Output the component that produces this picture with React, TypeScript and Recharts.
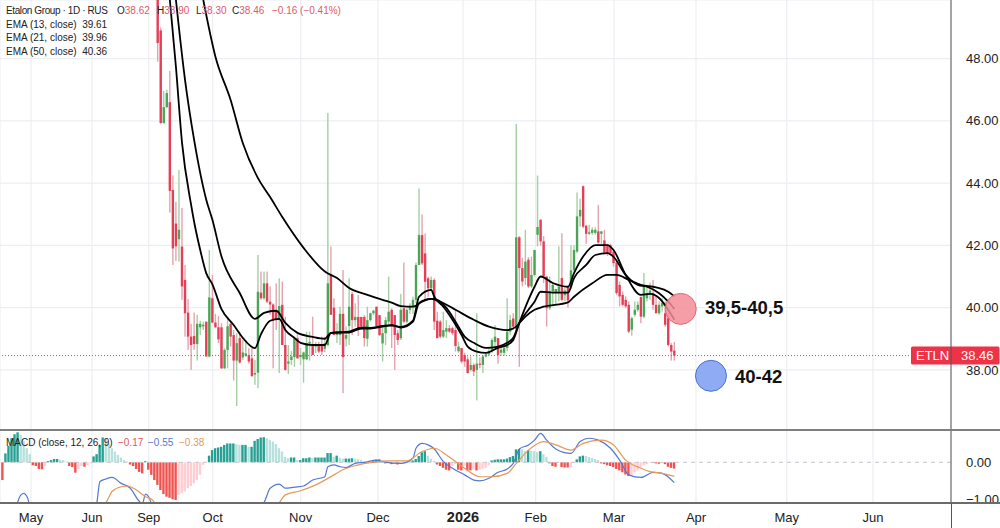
import { Bar, CartesianGrid, Cell, ComposedChart, Line, ReferenceDot, ReferenceLine, XAxis, YAxis } from 'recharts';

// candle values, one per trading day
const opens = [
  49.88, 48.9, 45.93, 46.44, 46.6, 43.78, 42.7, 42.2, 41.96, 40.89,
  39.84, 39.07, 39.09, 38.83, 39.37, 39.4, 39.55, 38.43, 40.3, 39.52,
  39.37, 39.37, 38.05, 38.64, 39.48, 39.12, 38.3, 39.02, 38.4, 38.45,
  38.48, 38.37, 37.85, 37.91, 40.48, 40.3, 40.78, 40.19, 40.1, 39.9,
  39.6, 40.09, 38.8, 38.2, 38.32, 38.41, 39.02, 38.41, 38.34, 38.34,
  38.86, 38.8, 38.75, 38.8, 38.8, 38.68, 38.8, 41.05, 40, 39.12,
  39.12, 39.8, 39, 39.41, 40.44, 39.6, 39.7, 39.7, 39.7, 39,
  39.6, 39.82, 40.03, 39.76, 38.85, 39.18, 39.55, 39.93, 39.76, 39.18,
  39.02, 39.98, 39.55, 39.93, 40.03, 40.25, 41.37, 42.33, 41.74, 40.94,
  40.62, 40.89, 39.58, 39.55, 39.07, 39.23, 39.34, 39.34, 39.28, 38.6,
  38.7, 38.48, 38.34, 38, 38.16, 38, 38.2, 38.16, 38.43, 38.5,
  38.6, 38.9, 39.02, 38.55, 38.55, 38.7, 39.23, 39.65, 39.3, 42.26,
  41.27, 40.95, 41.54, 40.68, 41.05, 42.34, 42.82, 42.13, 41, 39.98,
  40.52, 40.5, 40.5, 40.95, 40.4, 40.68, 40.68, 41.2, 41.8, 42.93,
  43.9, 42.63, 42.37, 42.4, 42.4, 42.45, 42.37, 42.16, 42, 42,
  41.8, 41.45, 40.73, 40.41, 40.25, 40.09, 39.29, 39.77, 39.93, 40.34,
  39.71, 40.3, 40.47, 40.47, 40.09, 39.82, 40.04, 39.82, 39.66, 38.8,
  38.62,
];
const highs = [
  49.88, 49, 46.96, 47, 47.6, 44.25, 43.4, 44.42, 43.2, 41.37,
  40.28, 39.48, 39.84, 39.77, 39.58, 39.55, 39.55, 41.85, 41.05, 39.8,
  39.73, 39.5, 38.7, 39.69, 39.55, 39.28, 39.18, 39.23, 38.96, 38.96,
  38.7, 38.7, 38.32, 41.69, 41.16, 41.16, 41.16, 40.68, 40.14, 40.78,
  40.94, 40.84, 39.71, 38.8, 38.6, 39.07, 39.18, 38.7, 38.59, 39.23,
  39.23, 39.71, 38.9, 38.9, 39.07, 39.07, 46.25, 41.96, 40.3, 39.5,
  40.03, 41.21, 39.4, 40.94, 40.51, 40.14, 40.41, 39.71, 39.76, 40.03,
  39.84, 39.93, 40.03, 39.76, 39.39, 39.7, 41, 39.98, 39.76, 39.28,
  40.44, 41.45, 39.98, 40.14, 40.35, 41.45, 43.83, 42.99, 42.38, 40.99,
  41, 40.94, 39.87, 39.6, 39.87, 39.6, 39.44, 39.39, 39.93, 38.9,
  38.7, 38.55, 38.43, 38.43, 38.21, 39.82, 38.4, 38.48, 38.55, 38.7,
  39.02, 39.44, 39.02, 38.8, 38.8, 40.3, 39.76, 39.82, 45.9, 42.3,
  41.6, 42.5, 41.62, 41.64, 41.86, 44.24, 42.84, 42.3, 41, 41,
  40.79, 40.6, 41.97, 42.39, 40.7, 40.7, 42, 42, 43.7, 43.5,
  43.92, 42.66, 42.66, 42.58, 42.58, 43.3, 42.45, 42.5, 42.05, 42.05,
  41.86, 41.54, 40.84, 40.52, 40.36, 40.2, 39.71, 40.2, 40.2, 40.36,
  41.11, 40.73, 40.8, 40.89, 40.41, 40.2, 40.3, 40.2, 39.82, 38.86,
  38.9,
];
const lows = [
  47.9, 45.9, 45.9, 46.4, 43.05, 41.37, 41.5, 41.48, 40.25, 39.07,
  38.64, 38, 38.64, 38.3, 39.12, 39.28, 38.43, 38.4, 39.5, 39.34,
  38.86, 38.03, 38.03, 38.05, 38.75, 37.66, 36.84, 38.2, 38.32, 38.42,
  38.2, 37.78, 37.52, 37.41, 40.25, 40.25, 40.14, 39.77, 38.05, 39.28,
  37.9, 38.8, 37.98, 37.87, 38.16, 38.1, 38.37, 38.16, 37.59, 38.32,
  38.3, 38.48, 38.54, 38.54, 38.48, 38.57, 38.75, 39.77, 39.12, 38.86,
  38.8, 37.25, 38.75, 38.8, 39.12, 39.39, 39.09, 39.28, 38.75, 38.75,
  39.55, 39.76, 39.39, 39.09, 38.27, 38.8, 39.44, 38.7, 38, 38.8,
  38.96, 39.5, 39.5, 39.8, 39.8, 40.14, 41.37, 41.37, 40.25, 40.35,
  40.57, 39.28, 39.02, 39.02, 39.02, 39.02, 39.18, 39.12, 38.59, 38.55,
  38.21, 38.1, 37.89, 37.95, 37.8, 37.02, 38.05, 37.9, 38.4, 38.45,
  38.55, 38.75, 38.2, 38.45, 38.45, 38.6, 39.12, 39.28, 39.3, 38.1,
  40.68, 40.73, 40.63, 40.63, 41, 41.97, 41.99, 40.79, 39.39, 39.93,
  40.04, 40.1, 40.2, 40.2, 40.2, 40, 40.6, 41.15, 41.75, 42.6,
  42.55, 42.05, 42.33, 42.34, 42.34, 42.05, 42.05, 41.75, 41.66, 41.66,
  41.32, 40.41, 40.04, 40.04, 39.98, 39.18, 39.1, 39.71, 39.87, 39.5,
  39.66, 40.2, 40.25, 39.93, 39.82, 39.77, 39.87, 39.39, 38.75, 38.3,
  38.3,
];
const closes = [
  48.5, 45.93, 46.44, 46.89, 43.75, 41.9, 41.97, 42.5, 40.68, 39.82,
  39.07, 38.8, 38.83, 39.48, 39.48, 39.45, 38.43, 40.33, 39.52, 39.37,
  38.98, 38.05, 38.64, 39.4, 39.07, 38.3, 38.86, 38.24, 38.56, 38.53,
  38.27, 37.8, 37.9, 40.51, 40.3, 40.78, 40.19, 40.1, 39.6, 39.6,
  40.05, 38.8, 38, 38.27, 38.43, 39.02, 38.37, 38.48, 38.56, 38.86,
  38.9, 38.48, 38.8, 38.59, 38.59, 38.86, 40.78, 39.77, 39.12, 39.23,
  39.8, 38.41, 39.12, 40.03, 39.6, 39.7, 39.28, 39.39, 39.02, 39.6,
  39.82, 39.9, 39.41, 39.12, 39.18, 39.6, 39.87, 39.39, 39.12, 38.96,
  39.93, 39.55, 39.93, 40.03, 40.25, 41.37, 42.33, 41.42, 40.83, 40.62,
  40.89, 39.55, 39.02, 39.07, 39.28, 39.34, 39.23, 39.18, 38.77, 38.75,
  38.27, 38.27, 37.9, 38.16, 37.95, 38.2, 38.16, 38.43, 38.5, 38.6,
  38.96, 39.07, 38.48, 38.65, 38.7, 39.23, 39.6, 39.39, 42.26, 41.27,
  40.84, 41.48, 40.68, 41.05, 41.85, 42.59, 42.13, 41, 39.98, 40.52,
  40.73, 40.6, 40.68, 40.25, 40.55, 40.23, 41.2, 41.85, 42.93, 43.14,
  42.6, 42.37, 42.42, 42.5, 42.5, 42.09, 42.45, 41.77, 41.75, 41.75,
  41.43, 40.47, 40.36, 40.09, 40.04, 39.23, 39.66, 39.93, 40.09, 39.71,
  40.73, 40.47, 40.55, 40.09, 39.82, 40.09, 40.15, 39.45, 38.8, 38.59,
  38.46,
];

// EMA lines, sampled as [bar, value]
const ema13: number[][] = [
  [4, 49.88], [6, 47.73], [8, 45.3], [11, 43.3], [12, 42.75], [14, 41.85], [16, 41.1], [18, 40.75], [21, 39.95],
  [25, 39.44], [28, 39.03], [32, 38.7], [34, 39.15], [37, 39.58], [40, 39.64], [42, 39.28], [45, 39.03], [47, 38.87],
  [51, 38.8], [55, 38.8], [57, 39.19], [63, 39.23], [67, 39.36], [70, 39.35], [74, 39.41], [77, 39.44], [80, 39.38],
  [84, 39.58], [86, 40.35], [90, 40.57], [91, 40.35], [94, 40.03], [97, 39.61], [100, 39.12], [102, 38.75], [105, 38.59],
  [108, 38.55], [112, 38.71], [115, 38.8], [117, 38.96], [119, 39.51], [122, 40.25], [124, 40.67], [126, 41], [130, 40.79],
  [135, 40.67], [137, 41.11], [140, 41.64], [144, 42.01], [148, 42.01], [150, 41.85], [154, 41.05], [159, 40.41],
  [162, 40.44], [165, 40.31], [168, 39.93], [170, 39.61],
];
const ema21: number[][] = [
  [6, 49.88], [9, 47.31], [12, 45.38], [16, 43.46], [18, 42.82], [21, 41.64], [27, 40.47], [32, 39.64], [35, 39.83],
  [39, 39.9], [42, 39.51], [46, 39.19], [51, 39.06], [55, 39], [57, 39.19], [63, 39.2], [67, 39.33], [70, 39.33],
  [74, 39.39], [77, 39.43], [80, 39.36], [84, 39.55], [86, 40.15], [90, 40.28], [92, 40.25], [95, 39.99], [98, 39.55],
  [101, 39.07], [104, 38.87], [108, 38.71], [112, 38.75], [115, 38.87], [117, 39.03], [119, 39.51], [122, 39.93],
  [124, 40.19], [126, 40.51], [130, 40.48], [135, 40.48], [137, 40.95], [141, 41.37], [144, 41.69], [148, 41.75],
  [150, 41.63], [154, 41.05], [158, 40.73], [161, 40.67], [165, 40.46], [168, 40.19], [170, 39.96],
];
const ema50: number[][] = [
  [15, 49.88], [19, 48.06], [24, 46.67], [28, 45.29], [33, 44.16], [37, 43.55], [41, 42.91], [48, 41.92], [55, 41.16],
  [59, 40.95], [63, 40.63], [69, 40.41], [74, 40.25], [77, 40.16], [80, 40.05], [84, 40.03], [87, 40.19], [90, 40.28],
  [93, 40.19], [98, 39.93], [104, 39.61], [109, 39.39], [115, 39.28], [118, 39.39], [119, 39.5], [121, 39.71], [124, 39.93],
  [127, 40.03], [135, 40.17], [137, 40.35], [143, 40.78], [148, 41.05], [151, 41.05], [155, 40.89], [159, 40.73],
  [164, 40.65], [168, 40.51], [170, 40.36],
];

// MACD histogram, bar -51 up to bar 170
const macdHist = [
  -0.48, 0.24, 0.45, 0.65, 0.76, 0.81, 0.74, 0.58, 0.38, 0.22,
  -0.08, -0.1, -0.18, -0.19, -0.1, 0.03, 0.06, 0.09, 0.09, 0.07,
  0.06, 0.02, -0.1, -0.13, -0.28, -0.18, -0.1, -0.12, -0.08, -0.03,
  0.16, 0.22, 0.47, 0.67, 0.65, 0.51, 0.38, 0.29, 0.2, 0.13,
  0.06, 0.02, -0.06, -0.1, -0.18, -0.26, -0.3, 0.03, -0.2, -0.34,
  -0.48, -0.61, -0.75, -0.86, -0.93, -0.96, -1.0, -1.02, -0.88, -0.84,
  -0.79, -0.7, -0.64, -0.57, -0.48, -0.34, -0.07, 0, 0.18, 0.33,
  0.38, 0.4, 0.42, 0.47, 0.51, 0.51, 0.51, 0.49, 0.47, 0.47,
  0.47, 0.42, 0.42, 0.58, 0.63, 0.67, 0.68, 0.65, 0.6, 0.56,
  0.49, 0.38, 0.29, 0.15, 0.11, 0.13, 0.13, 0.06, 0.06, 0.11,
  0.11, 0.13, 0.12, 0.13, 0.13, 0.13, 0.13, 0.25, 0.25, 0.15,
  0.18, 0.12, 0.1, 0.1, 0.1, 0.11, 0.1, 0.08, 0.07, 0.02,
  0.01, 0, 0.05, 0.07, 0.08, 0.05, -0.03, 0.01, -0.05, -0.03,
  -0.06, -0.04, 0.01, 0.01, 0.02, 0.05, 0.09, 0.17, 0.27, 0.3,
  0.18, 0.1, 0.04, -0.06, -0.1, -0.15, -0.2, -0.22, -0.1, -0.05,
  -0.2, -0.22, -0.1, -0.22, -0.22, -0.2, -0.22, -0.2, -0.17, -0.15,
  -0.08, 0.05, 0.07, 0.08, 0.08, 0.08, 0.1, 0.14, 0.17, 0.35,
  0.36, 0.35, 0.3, 0.33, 0.31, 0.3, 0.28, 0.3, 0.22, 0.15,
  -0.03, -0.1, -0.12, -0.02, -0.13, -0.14, -0.14, -0.13, -0.02, 0.08,
  0.16, 0.18, 0.17, 0.14, 0.12, 0.09, 0.06, -0.03, -0.05, -0.08,
  -0.1, -0.13, -0.18, -0.22, -0.27, -0.33, -0.37, -0.35, -0.27, -0.22,
  -0.14, -0.08, -0.05, -0.02, -0.02, -0.03, -0.04, -0.02, -0.05, -0.12,
  -0.15, -0.17,
];
const macdLine: number[][] = [
  [-47, -1.33], [-45, -0.88], [-44, -0.84], [-43, -0.93], [-41, -1.42], [-30, -1.6], [-21, -1.6], [-20, -1.09], [-19, -0.52],
  [-17, -0.45], [-15, -0.41], [-12, -0.57], [-9, -0.7], [-6, -1.06], [-5, -1.11], [-4, -0.86], [-3, -0.93], [-2, -1.15],
  [-1, -1.6], [10, -2.2], [25, -2], [34, -1.15], [35, -1.08], [37, -0.7], [40, -0.59], [42, -0.7], [45, -0.67], [48, -0.64],
  [51, -0.48], [55, -0.39], [56, -0.12], [58, -0.07], [60, -0.12], [62, -0.14], [65, -0.03], [68, 0], [72, 0.06], [74, 0.02],
  [80, -0.03], [84, 0.11], [85, 0.38], [87, 0.51], [89, 0.47], [91, 0.36], [94, 0.02], [97, -0.16], [101, -0.34], [104, -0.48],
  [106, -0.5], [109, -0.43], [112, -0.27], [115, -0.18], [117, -0.03], [119, 0.36], [122, 0.47], [124, 0.6], [126, 0.78],
  [128, 0.6], [131, 0.36], [136, 0.24], [139, 0.56], [142, 0.65], [145, 0.6], [149, 0.38], [152, 0.06], [155, -0.34],
  [159, -0.41], [163, -0.27], [166, -0.3], [170, -0.55],
];
const macdSignal: number[][] = [
  [-30, -1.8], [-17, -1.09], [-15, -0.79], [-12, -0.66], [-10, -0.64], [-7, -0.75], [-4, -0.93], [-2, -1], [-1, -1.09],
  [10, -2], [25, -2], [38, -1.25], [40, -1.09], [42, -0.88], [47, -0.77], [52, -0.61], [58, -0.34], [60, -0.24], [65, -0.09],
  [71, 0], [76, 0.04], [82, 0.04], [87, 0.29], [91, 0.38], [95, 0.2], [101, -0.16], [106, -0.39], [110, -0.39], [115, -0.3],
  [118, -0.03], [122, 0.33], [127, 0.56], [131, 0.47], [136, 0.33], [140, 0.51], [146, 0.6], [150, 0.47], [154, 0.06],
  [159, -0.16], [162, -0.25], [166, -0.3], [170, -0.38],
];

const monthLabels = ['May', 'Jun', 'Sep', 'Oct', 'Nov', 'Dec', '2026', 'Feb', 'Mar', 'Apr', 'May', 'Jun'];
const monthTicks = [-41.69, -21.62, -2.96, 18.1, 47.05, 72.49, 100.46, 124.38, 150.15, 177.13, 206.98, 235.37];
const priceTicks = [38, 40, 42, 44, 46, 48];
const macdTicks = [-1, 0];
const lastClose = 38.46;
const sellZone = { bar: 172.1, price: 39.96 };
const buyZone = { bar: 182.06, price: 37.81 };

const xDomain = [-51.89, 261.04];
const font = '"Liberation Sans", Arial, sans-serif';
const gridColor = '#eceef2';

const valueAt = (pts: number[][], i: number) => {
  const hit = pts.find(p => p[0] === i);
  return hit ? hit[1] : null;
};

const priceData = opens.map((o, i) => ({
  i,
  o,
  h: highs[i],
  l: lows[i],
  c: closes[i],
  range: [lows[i], highs[i]],
  e13: valueAt(ema13, i),
  e21: valueAt(ema21, i),
  e50: valueAt(ema50, i),
}));

const macdData = macdHist.map((v, n) => ({
  i: n - 51,
  hist: v,
  macd: valueAt(macdLine, n - 51),
  signal: valueAt(macdSignal, n - 51),
}));

function histColor(n: number) {
  const v = macdHist[n];
  const prev = n > 0 ? macdHist[n - 1] : 0;
  if (v >= 0) return v >= prev ? '#26a093' : '#b7e1dc';
  return v <= prev ? '#ef5350' : '#ffcdd2';
}

function Candle(props: any) {
  const { x, y, width, height, payload } = props;
  if (!payload || height == null) return null;
  const perUnit = height / (payload.h - payload.l || 1);
  const cx = x + width / 2;
  const top = y + (payload.h - Math.max(payload.o, payload.c)) * perUnit;
  const bodyH = Math.max(Math.abs(payload.o - payload.c) * perUnit, 1);
  const up = payload.c >= payload.o;
  return (
    <g>
      <rect x={cx - 0.7} y={y} width={1.4} height={height} fill={up ? '#a5cfa3' : '#e5a3ae'} />
      <rect x={cx - 1.2} y={top} width={2.4} height={bodyH} fill={up ? '#4ca557' : '#e43f57'} />
    </g>
  );
}

function MonthTick(props: any) {
  const { x, payload } = props;
  const label = monthLabels[monthTicks.indexOf(payload.value)];
  const isYear = label === '2026';
  return (
    <text x={x} y={90.5} textAnchor="middle" fontSize={isYear ? 14.5 : 13} fontFamily={font} fontWeight={isYear ? 700 : 400} fill="#222">
      {label}
    </text>
  );
}

function PriceTag(props: any) {
  const y = props.viewBox.y;
  return (
    <g fontFamily={font} fontSize={13} fill="#fff">
      <rect x={911} y={y - 9} width={88.5} height={18} rx={1.5} fill="#ee3348" />
      <text x={916} y={y + 4.5}>ETLN</text>
      <text x={961} y={y + 4.5}>{lastClose.toFixed(2)}</text>
    </g>
  );
}

function Txt({ x, y, color = '#222', size = 10, weight = 400, spacing = 0, children }: any) {
  return (
    <div style={{ position: 'absolute', left: x, top: y, color, fontSize: size, fontWeight: weight, fontFamily: font, lineHeight: '14px', letterSpacing: spacing, whiteSpace: 'nowrap', zIndex: 5 }}>
      {children}
    </div>
  );
}

function Rule({ x, y, w, h, color }: any) {
  return <div style={{ position: 'absolute', left: x, top: y, width: w, height: h, background: color, zIndex: 4 }} />;
}

export default function App() {
  const red = '#dd5a6c';
  return (
    <div style={{ position: 'absolute', left: 0, top: 0, width: 1000, height: 528, background: '#fff', overflow: 'hidden' }}>
      <div style={{ position: 'absolute', left: 0, top: 0 }}>
        <ComposedChart width={1000} height={430} data={priceData} margin={{ top: 0, right: 0, bottom: 0, left: 0 }}>
          <CartesianGrid stroke={gridColor} strokeWidth={1.2} />
          <XAxis dataKey="i" type="number" domain={xDomain} ticks={monthTicks} hide allowDataOverflow />
          <YAxis
            orientation="right"
            width={49}
            domain={[36.07, 49.88]}
            ticks={priceTicks}
            tickLine={false}
            tickMargin={9}
            axisLine={{ stroke: '#555' }}
            tickFormatter={(v: number) => v.toFixed(2)}
            tick={{ fontSize: 13, fontFamily: font, fill: '#222' }}
          />
          <Bar dataKey="range" barSize={3} shape={Candle} isAnimationActive={false} />
          <ReferenceDot x={sellZone.bar} y={sellZone.price} r={15.5} fill="#f58d99" fillOpacity={0.85} stroke="#dc6a78" strokeWidth={1} />
          <ReferenceDot x={buyZone.bar} y={buyZone.price} r={15.5} fill="#8fabf3" stroke="#4f72cf" strokeWidth={1} />
          <ReferenceLine y={lastClose} stroke="#e8485c" strokeDasharray="1 2" strokeWidth={1} label={PriceTag} />
          <Line dataKey="e13" type="monotone" stroke="#000" strokeWidth={1.8} dot={false} connectNulls isAnimationActive={false} />
          <Line dataKey="e21" type="monotone" stroke="#000" strokeWidth={1.8} dot={false} connectNulls isAnimationActive={false} />
          <Line dataKey="e50" type="monotone" stroke="#000" strokeWidth={1.8} dot={false} connectNulls isAnimationActive={false} />
        </ComposedChart>
      </div>

      <div style={{ position: 'absolute', left: 0, top: 431 }}>
        <ComposedChart width={1000} height={97} data={macdData} margin={{ top: 0, right: 0, bottom: 0, left: 0 }}>
          <CartesianGrid stroke={gridColor} strokeWidth={1.2} horizontal={false} />
          <XAxis
            dataKey="i"
            type="number"
            domain={xDomain}
            ticks={monthTicks}
            interval={0}
            height={25}
            axisLine={false}
            tickLine={false}
            tick={MonthTick}
            allowDataOverflow
          />
          <YAxis
            orientation="right"
            width={49}
            domain={[-1.1, 0.846]}
            ticks={macdTicks}
            tickLine={false}
            tickMargin={9}
            axisLine={{ stroke: '#555' }}
            allowDataOverflow
            tickFormatter={(v: number) => v.toFixed(2).replace('-', '\u2212')}
            tick={{ fontSize: 13, fontFamily: font, fill: '#222' }}
          />
          <ReferenceLine y={0} stroke="#c4c6cc" strokeDasharray="4 4" />
          <Bar dataKey="hist" barSize={2.4} isAnimationActive={false}>
            {macdHist.map((_, n) => (
              <Cell key={n} fill={histColor(n)} />
            ))}
          </Bar>
          <Line dataKey="macd" type="monotone" stroke="#5578cf" strokeWidth={1.2} dot={false} connectNulls isAnimationActive={false} />
          <Line dataKey="signal" type="monotone" stroke="#e39a5c" strokeWidth={1.2} dot={false} connectNulls isAnimationActive={false} />
        </ComposedChart>
      </div>

      {/* pane borders */}
      <Rule x={0} y={429} w={1000} h={2} color="#7f7f7f" />
      <Rule x={0} y={502} w={1000} h={1.5} color="#6b6b6b" />
      <Rule x={952} y={503.5} w={48} h={25} color="#fff" />
      <Rule x={951} y={503} w={1} h={25} color="#555" />

      <Txt x={6} y={4} spacing={-0.4}>Etalon Group · 1D · RUS</Txt>
      <Txt x={117} y={4}>O<span style={{ color: red }}>38.62</span></Txt>
      <Txt x={157} y={4}>H<span style={{ color: red }}>38.90</span></Txt>
      <Txt x={196} y={4}>L<span style={{ color: red }}>38.30</span></Txt>
      <Txt x={232} y={4}>C<span style={{ color: red }}>38.46</span></Txt>
      <Txt x={272} y={4} color={red}>−0.16 (−0.41%)</Txt>
      <Txt x={6} y={18}>EMA (13, close)&nbsp;&nbsp;39.61</Txt>
      <Txt x={6} y={31}>EMA (21, close)&nbsp;&nbsp;39.96</Txt>
      <Txt x={6} y={45}>EMA (50, close)&nbsp;&nbsp;40.36</Txt>

      <Txt x={6} y={436}>MACD (close, 12, 26, 9)</Txt>
      <Txt x={118} y={436} color="#e0566a">−0.17</Txt>
      <Txt x={148} y={436} color="#5578cf">−0.55</Txt>
      <Txt x={179} y={436} color="#e39a5c">−0.38</Txt>

      <Txt x={705} y={301} size={18.5} weight={700} color="#111">39,5-40,5</Txt>
      <Txt x={735} y={370} size={18.5} weight={700} color="#111">40-42</Txt>
    </div>
  );
}
